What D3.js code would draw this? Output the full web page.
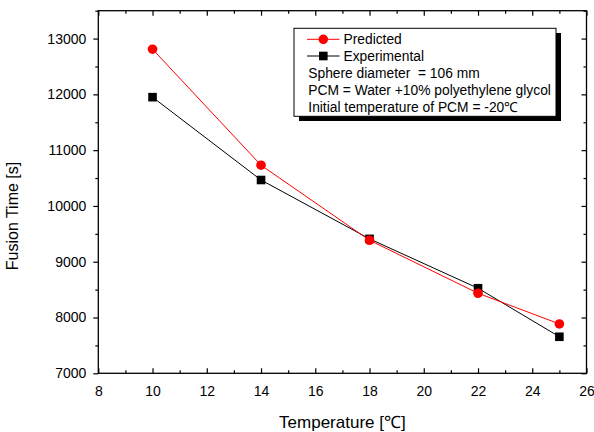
<!DOCTYPE html>
<html><head><meta charset="utf-8">
<script src="https://cdn.jsdelivr.net/npm/d3@7"></script>
<style>
html,body{margin:0;padding:0;background:#fff;}
text{font-family:"Liberation Sans",Arial,sans-serif;white-space:pre;}
</style></head>
<body><svg id="c" width="594" height="432"></svg>
<script>
const temps = [10, 14, 18, 22, 25];
const predicted = [12810, 10730, 9385, 8435, 7885];
const experimental = [11950, 10465, 9410, 8525, 7655];
const xTicks = [8, 10, 12, 14, 16, 18, 20, 22, 24, 26];
const yTicks = [7000, 8000, 9000, 10000, 11000, 12000, 13000];
const legendNotes = ["Sphere diameter  = 106 mm", "PCM = Water +10% polyethylene glycol", "Initial temperature of PCM = -20\u2103"];

const svg = d3.select("#c");
const L = 98.3, R = 586.5, T = 10.7, B = 373.3;
const x = d3.scaleLinear().domain([8, 26]).range([L, R]);
const y = d3.scaleLinear().domain([7000, 13500]).range([B, T]);

const xMinor = d3.range(8, 26.01, 1);
const yMinor = d3.range(7000, 13501, 500);

svg.append("g").attr("transform", `translate(0,${B})`)
  .call(d3.axisBottom(x).tickValues(xTicks).tickSize(-5).tickPadding(13).tickFormat(d3.format("d")));
svg.append("g").attr("transform", `translate(0,${B})`)
  .call(d3.axisBottom(x).tickValues(xMinor.filter(v => v % 2)).tickSize(-3).tickFormat(""));
svg.append("g").attr("transform", `translate(0,${T})`)
  .call(d3.axisTop(x).tickValues(xTicks).tickSize(-5).tickFormat(""));
svg.append("g").attr("transform", `translate(0,${T})`)
  .call(d3.axisTop(x).tickValues(xMinor.filter(v => v % 2)).tickSize(-3).tickFormat(""));
svg.append("g").attr("transform", `translate(${L},0)`)
  .call(d3.axisLeft(y).tickValues(yTicks).tickSize(5).tickPadding(7).tickFormat(d3.format("d")));
svg.append("g").attr("transform", `translate(${L},0)`)
  .call(d3.axisLeft(y).tickValues(yMinor.filter(v => v % 1000)).tickSize(3).tickFormat(""));
svg.append("g").attr("transform", `translate(${R},0)`)
  .call(d3.axisRight(y).tickValues(yTicks).tickSize(-5).tickFormat(""));
svg.append("g").attr("transform", `translate(${R},0)`)
  .call(d3.axisRight(y).tickValues(yMinor.filter(v => v % 1000)).tickSize(-3).tickFormat(""));

svg.selectAll(".domain").remove();
svg.selectAll(".tick line").attr("stroke", "#000").attr("stroke-width", 1.2);
svg.selectAll(".tick text").attr("font-size", 14).attr("fill", "#000").style("font-family", "Liberation Sans, Arial, sans-serif");

svg.append("rect").attr("x", L).attr("y", T).attr("width", R - L).attr("height", B - T)
  .attr("fill", "none").attr("stroke", "#000").attr("stroke-width", 1.3);

svg.append("text").attr("x", (L + R) / 2).attr("y", 428).attr("text-anchor", "middle")
  .attr("font-size", 17).text("Temperature [\u2103]");
svg.append("text").attr("transform", "translate(17.5,216) rotate(-90)").attr("text-anchor", "middle")
  .attr("font-size", 16).text("Fusion Time [s]");

const line = d3.line().x(d => x(d[0])).y(d => y(d[1]));
const expData = temps.map((t, i) => [t, experimental[i]]);
const preData = temps.map((t, i) => [t, predicted[i]]);
svg.append("path").datum(expData).attr("d", line).attr("fill", "none").attr("stroke", "#000").attr("stroke-width", 1);
svg.selectAll(".sq").data(expData).enter().append("rect")
  .attr("x", d => x(d[0]) - 4.3).attr("y", d => y(d[1]) - 4.3).attr("width", 8.6).attr("height", 8.6).attr("fill", "#000");
svg.append("path").datum(preData).attr("d", line).attr("fill", "none").attr("stroke", "#ff0000").attr("stroke-width", 1);
svg.selectAll(".ci").data(preData).enter().append("circle")
  .attr("cx", d => x(d[0])).attr("cy", d => y(d[1])).attr("r", 4.8).attr("fill", "#ff0000");

const lg = svg.append("g");
lg.append("rect").attr("x", 299).attr("y", 33).attr("width", 262).attr("height", 88).attr("fill", "#000");
lg.append("rect").attr("x", 294).attr("y", 28.3).attr("width", 262).attr("height", 88)
  .attr("fill", "#fff").attr("stroke", "#000").attr("stroke-width", 1);
lg.append("line").attr("x1", 307).attr("x2", 339.5).attr("y1", 39.3).attr("y2", 39.3).attr("stroke", "#ff0000");
lg.append("circle").attr("cx", 323.3).attr("cy", 39.3).attr("r", 4.8).attr("fill", "#ff0000");
lg.append("text").attr("x", 343.5).attr("y", 39.3).attr("dy", "0.35em").attr("font-size", 13.8).text("Predicted");
lg.append("line").attr("x1", 307).attr("x2", 339.5).attr("y1", 56).attr("y2", 56).attr("stroke", "#000");
lg.append("rect").attr("x", 323.3 - 4.3).attr("y", 56 - 4.3).attr("width", 8.6).attr("height", 8.6).attr("fill", "#000");
lg.append("text").attr("x", 343.5).attr("y", 56).attr("dy", "0.35em").attr("font-size", 13.8).text("Experimental");
legendNotes.forEach((t, i) => {
  lg.append("text").attr("x", 308.3).attr("y", 73.3 + i * 17).attr("dy", "0.35em").attr("font-size", 13.8).text(t);
});
</script></body></html>
